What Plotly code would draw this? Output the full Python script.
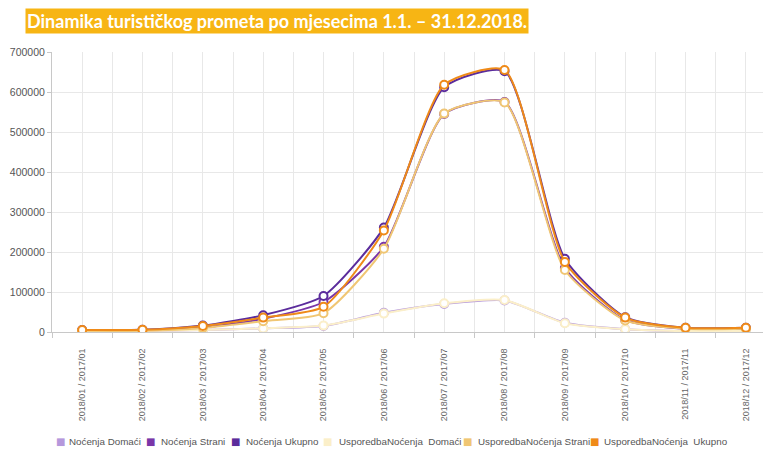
import plotly.graph_objects as go

months = ["2018/01 / 2017/01", "2018/02 / 2017/02", "2018/03 / 2017/03", "2018/04 / 2017/04",
          "2018/05 / 2017/05", "2018/06 / 2017/06", "2018/07 / 2017/07", "2018/08 / 2017/08",
          "2018/09 / 2017/09", "2018/10 / 2017/10", "2018/11 / 2017/11", "2018/12 / 2017/12"]

nocenja_domaci = [2000, 2500, 5000, 9000, 15000, 48000, 70000, 79000, 23000, 7000, 2500, 2500]
nocenja_strani = [3000, 3000, 11000, 33000, 75000, 213000, 545000, 575000, 160000, 30000, 8000, 8000]
nocenja_ukupno = [5000, 5500, 16000, 42000, 90000, 261000, 612000, 652000, 183000, 37000, 10500, 10500]
usp_domaci = [2000, 2500, 5000, 9000, 16000, 46000, 72000, 80000, 22000, 7000, 2500, 2500]
usp_strani = [3000, 3000, 10000, 27000, 47000, 208000, 546000, 574000, 155000, 29000, 8000, 8000]
usp_ukupno = [5000, 5500, 15000, 36000, 63000, 254000, 618000, 655000, 175000, 36000, 10500, 10500]

series_names = ["Noćenja Domaći", "Noćenja Strani", "Noćenja Ukupno",
                "UsporedbaNoćenja\u00a0 Domaći", "UsporedbaNoćenja Strani",
                "UsporedbaNoćenja\u00a0 Ukupno"]
series_values = [nocenja_domaci, nocenja_strani, nocenja_ukupno, usp_domaci, usp_strani, usp_ukupno]
series_colors = ["#b598dc", "#7a36a8", "#5b2c9c", "#fbefc9", "#f0c673", "#ef8a18"]

# page has an 8px body margin; figure sized to fill the rest of the 771x450 window
OFF = 8
W, H = 771 - OFF, 450 - OFF
L, R, T, B = 44, 4, 44, 118
PW, PH = W - L - R, H - T - B

xs = list(range(len(months)))
fig = go.Figure()
for name, vals, col in zip(series_names, series_values, series_colors):
    fig.add_trace(go.Scatter(
        x=xs, y=vals, mode="lines+markers", name=name, showlegend=False,
        line=dict(color=col, width=2, shape="spline", smoothing=0.6),
        marker=dict(size=8, color="white", line=dict(color=col, width=2)),
    ))

def px_x(p):
    return (p - OFF - L) / PW

def px_y(p):
    return (H - B - (p - OFF)) / PH

annotations = [dict(
    text="<b>Dinamika turističkog prometa po mjesecima 1.1. – 31.12.2018.</b>",
    xref="paper", yref="paper", x=px_x(25), y=px_y(21), xanchor="left", yanchor="middle",
    showarrow=False, bgcolor="#f7b514", borderpad=1,
    font=dict(family="Lato, Open Sans, sans-serif", size=18, color="white"),
)]

# legend (icon centre x, text start x) in page pixels
legend_pos = [(60, 67), (150, 159), (235, 244), (327, 337), (467, 476), (594, 602)]
for (ix, tx), name, col in zip(legend_pos, series_names, series_colors):
    annotations.append(dict(
        text="■", xref="paper", yref="paper", x=px_x(ix), y=px_y(441),
        xanchor="center", yanchor="middle", showarrow=False,
        font=dict(size=10, color=col, family="DejaVu Sans")))
    annotations.append(dict(
        text=name, xref="paper", yref="paper", x=px_x(tx), y=px_y(441),
        xanchor="left", yanchor="middle", showarrow=False,
        font=dict(size=9.8, color="#555555", family="Liberation Sans, Arial, sans-serif")))

fig.update_layout(
    width=W, height=H,
    margin=dict(l=L, r=R, t=T, b=B),
    paper_bgcolor="white", plot_bgcolor="white",
    font=dict(family="Liberation Sans, Arial, sans-serif", color="#555555", size=10),
    showlegend=False,
    annotations=annotations,
)
fig.update_xaxes(
    range=[-0.5, 11.35], tickmode="array", tickvals=xs, ticktext=months,
    tickangle=-90, tickfont=dict(size=9, color="#666666"),
    showgrid=True, gridcolor="#e8e8e8", gridwidth=1, automargin=False,
    showline=True, linecolor="#c8c8c8", linewidth=1,
    ticks="outside", ticklen=12, tickcolor="rgba(0,0,0,0)", zeroline=False,
    minor=dict(tickvals=[i + 0.5 for i in range(-1, 12)], showgrid=True, gridcolor="#e8e8e8",
               ticks="outside", ticklen=5, tickcolor="#c8c8c8"),
)
fig.update_yaxes(
    range=[0, 700000], dtick=100000, tickformat="d", automargin=False,
    tickfont=dict(size=10.5, color="#555555"),
    showgrid=True, gridcolor="#e8e8e8", gridwidth=1,
    showline=True, linecolor="#c8c8c8", linewidth=1, ticks="outside", ticklen=4,
    tickcolor="#c8c8c8", zeroline=False,
)

fig.write_html("out.html")
